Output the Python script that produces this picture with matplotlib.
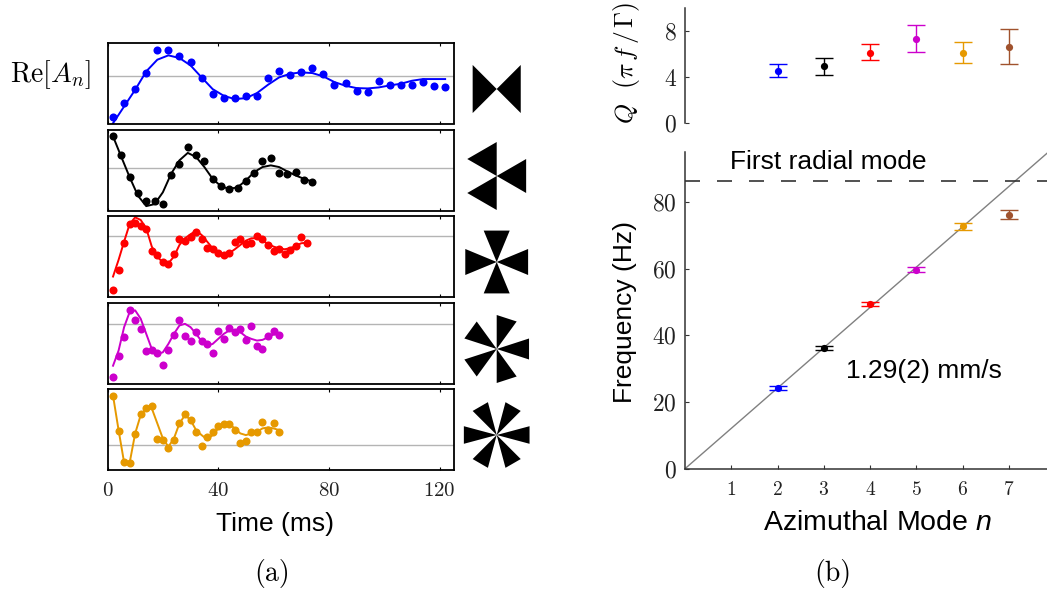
import numpy as np
import matplotlib
matplotlib.use('Agg')
import matplotlib.pyplot as plt
from matplotlib.patches import Polygon

plt.rcParams['font.family'] = ['Liberation Sans', 'DejaVu Sans']
plt.rcParams['mathtext.fontset'] = 'cm'
plt.rcParams['mathtext.it'] = 'Liberation Sans:italic'
plt.rcParams['axes.formatter.use_mathtext'] = True

W, H = 1047, 593
SERIF = ['cmr10', 'DejaVu Serif']

# ringdown traces, arbitrary units with the grey zero line at 0
blue_pts = [-122, -80, -38, 9, 80, 80, 61, 43, -4, -52, -64, -64, -58, -59, -5, 15,
            4, 14, 26, 8, -27, -21, -45, -46, -15, -25, -25, -25, -16, -30, -32]
blue_fit = [-140, -90, -40, 15, 50, 63, 55, 33, -3, -38, -58, -68, -65, -50, -25, -3,
            8, 12, 10, 0, -17, -28, -35, -36, -33, -27, -22, -13, -8, -8, -8]
black_pts = [95, 39, -25, -73, -96, -96, -107, -20, 14, 64, 41, 22, -32, -51, -61, -58,
             -37, -13, 21, 30, -14, -16, -11, -34, -41]
black_fit = [95, 34, -26, -81, -112, -106, -71, -16, 24, 46, 34, 4, -31, -53, -61, -56,
             -36, -11, 4, 9, 4, -9, -21, -31, -39]
red_pts = [-162, -101, -21, 35, 40, 30, 21, -45, -56, -77, -84, -53, -10, -14, -2, 12,
           -9, -36, -38, -51, -57, -51, -19, -8, -24, -22, -1, -9, -26, -44, -38, -53,
           -42, -30, -3, -22]
red_fit = [-122, -72, -17, 36, 56, 48, 23, -32, -62, -80, -82, -62, -27, -7, 5, 16,
           3, -17, -37, -50, -57, -52, -40, -27, -14, -7, -7, -14, -24, -32, -37, -40,
           -37, -30, -22, -20]
mag_pts = [-159, -95, -38, 42, 12, -16, -82, -78, -87, -124, -77, -33, 12, -37, -52, -25,
           -52, -60, -87, -20, -46, -12, -23, -15, -48, -8, -67, -74, -36, -21, -33]
mag_fit = [-125, -80, -10, 35, 40, 15, -30, -75, -90, -85, -60, -30, -5, 0, -10, -30,
           -52, -65, -60, -45, -30, -20, -18, -25, -38, -45, -50, -48, -40, -32, -30]
org_pts = [149, 42, -51, -52, 35, 94, 111, 117, 19, 16, -7, 17, 68, 95, 76, 40,
           -2, 26, 40, 59, 64, 64, 47, 6, 14, 41, 41, 71, 46, 66, 41]
org_fit = [149, 46, -51, -52, 36, 91, 111, 111, 66, 21, -4, 21, 66, 91, 76, 46,
           31, 18, 31, 51, 61, 64, 51, 36, 31, 36, 41, 51, 54, 51, 46]

trace_step = [4, 3, 2, 2, 2]  # ms between samples
trace_pts = [blue_pts, black_pts, red_pts, mag_pts, org_pts]
trace_fit = [blue_fit, black_fit, red_fit, mag_fit, org_fit]
trace_ylim = [(-141, 100), (-125, 114), (-182, 60), (-178, 62), (-72, 169)]
time_ticks = [0, 40, 80, 120]

# right hand side
modes = [2, 3, 4, 5, 6, 7]
mode_colors = ['#0000ff', '#000000', '#ff0000', '#cc00cc', '#e69900', '#a0522d']
q_vals = [4.54, 4.94, 6.13, 7.34, 6.13, 6.65]
q_hi = [5.12, 5.64, 6.85, 8.5, 7.02, 8.18]
q_lo = [3.99, 4.22, 5.46, 6.21, 5.2, 5.14]
freq_vals = [24.2, 36.3, 49.3, 59.7, 72.7, 76.2]
freq_err = [0.6, 0.6, 0.6, 0.8, 1.0, 1.3]
slope = 12.1
radial_freq = 86.2


def px_axes(left, top, right, bottom):
    return fig.add_axes([left / W, 1 - bottom / H, (right - left) / W, (bottom - top) / H])


def serif_ticks(ax, size=14.5):
    for lab in ax.get_xticklabels() + ax.get_yticklabels():
        lab.set_fontfamily(SERIF)
        lab.set_fontsize(size)
        lab.set_color('#222222')


def point_with_bars(ax, x, y, lo, hi, c):
    # marker and caps are separate calls so the caps keep their own thickness
    ax.errorbar([x], [y], yerr=[[y - lo], [hi - y]], fmt='none', ecolor=c,
                elinewidth=1, capsize=6.6, capthick=1, zorder=2, clip_on=False)
    ax.plot([x], [y], 'o', color=c, ms=5.2, mew=0, zorder=3, clip_on=False)


fig = plt.figure(figsize=(W / 100, H / 100), dpi=100)

# left column: five traces
tops = [43, 130, 216, 303, 389]
for i in range(5):
    ax = px_axes(107.5, tops[i], 454, tops[i] + 80.5)
    t = 2 + trace_step[i] * np.arange(len(trace_pts[i]))
    ax.axhline(0, color='#b4b4b4', lw=1, zorder=1)
    ax.plot(t, trace_fit[i], color=mode_colors[i], lw=1.4, zorder=2)
    ax.plot(t, trace_pts[i], 'o', color=mode_colors[i], ms=5.8, mew=0, zorder=3)
    ax.set_xlim(0, 125.2)
    ax.set_ylim(*trace_ylim[i])
    ax.set_yticks([])
    ax.set_xticks(time_ticks)
    ax.tick_params(axis='x', direction='in', top=True, bottom=True, length=2.5, width=0.8,
                   labelbottom=(i == 4), pad=9)
    for s in ax.spines.values():
        s.set_linewidth(1.3)
    serif_ticks(ax, 15)

    # wedge icon next to each trace
    n = modes[i]
    cy = tops[i] + 46
    icon = px_axes(496.7 - 36, cy - 36, 496.7 + 36, cy + 36)
    icon.set_xlim(-36, 36)
    icon.set_ylim(-36, 36)
    icon.axis('off')
    half = np.pi / (2 * n)
    for k in range(n):
        a = 2 * np.pi * k / n
        icon.add_patch(Polygon([(0, 0),
                                (34 * np.cos(a - half), 34 * np.sin(a - half)),
                                (34 * np.cos(a + half), 34 * np.sin(a + half))],
                               closed=True, fc='black', ec='none'))

fig.text(50.5 / W, 1 - 75 / H, r'$\mathrm{Re}[A_n]$', fontsize=20, ha='center', va='center')
fig.text(275 / W, 1 - 524 / H, 'Time (ms)', fontsize=19, ha='center', va='center')
fig.text(272 / W, 1 - 573 / H, '(a)', fontsize=20, family=SERIF, ha='center', va='center')
fig.text(833 / W, 1 - 573 / H, '(b)', fontsize=20, family=SERIF, ha='center', va='center')

# Q panel
ax_q = px_axes(685, 8, W, 123.3)
for n, q, hi, lo, c in zip(modes, q_vals, q_hi, q_lo, mode_colors):
    point_with_bars(ax_q, n, q, lo, hi, c)
ax_q.set_xlim(0, 7.82)
ax_q.set_ylim(0, 10)
ax_q.set_xticks([])
ax_q.set_yticks([0, 4, 8])
ax_q.tick_params(axis='y', direction='in', length=3, width=0.8, pad=6, color='#333333')
serif_ticks(ax_q, 17)

# frequency panel
ax_f = px_axes(685, 152, W, 468.7)
xfit = np.array([0, 7.82])
ax_f.plot(xfit, slope * xfit, color='#808080', lw=1, zorder=1)
ax_f.axhline(radial_freq, color='#333333', lw=1.2, dashes=(9, 10.2), zorder=1)
for n, fr, e, c in zip(modes, freq_vals, freq_err, mode_colors):
    point_with_bars(ax_f, n, fr, fr - e, fr + e, c)
ax_f.set_xlim(0, 7.82)
ax_f.set_ylim(0, 95)
ax_f.set_xticks([1, 2, 3, 4, 5, 6, 7])
ax_f.set_yticks([0, 20, 40, 60, 80])
ax_f.tick_params(direction='in', length=3, width=0.8, color='#333333')
ax_f.tick_params(axis='y', pad=6)
ax_f.tick_params(axis='x', pad=9)
serif_ticks(ax_f, 17)
for lab in ax_f.get_xticklabels():
    lab.set_fontsize(14)

for ax in (ax_q, ax_f):
    ax.spines['top'].set_visible(False)
    ax.spines['right'].set_visible(False)
    ax.spines['left'].set_linewidth(1.1)
    ax.spines['bottom'].set_linewidth(1.1)
    ax.spines['left'].set_color('#333333')
    ax.spines['bottom'].set_color('#333333')
ax_q.spines['bottom'].set_visible(False)

fig.text(730 / W, 1 - 162 / H, 'First radial mode', fontsize=19, ha='left', va='center')
fig.text(846 / W, 1 - 371 / H, '1.29(2) mm/s', fontsize=19, ha='left', va='center')
fig.text(625 / W, 1 - 312 / H, 'Frequency (Hz)', fontsize=19, rotation=90, ha='center', va='center')
fig.text(626 / W, 1 - 63 / H, r'$Q\ \ (\pi\, f\,/\,\Gamma)$', fontsize=18.5, rotation=90,
         ha='center', va='center')
fig.text(877 / W, 1 - 523 / H, r'Azimuthal Mode $\mathit{n}$', fontsize=20.5, ha='center', va='center',
         math_fontfamily='custom')

fig.savefig('out.png', dpi=100)
